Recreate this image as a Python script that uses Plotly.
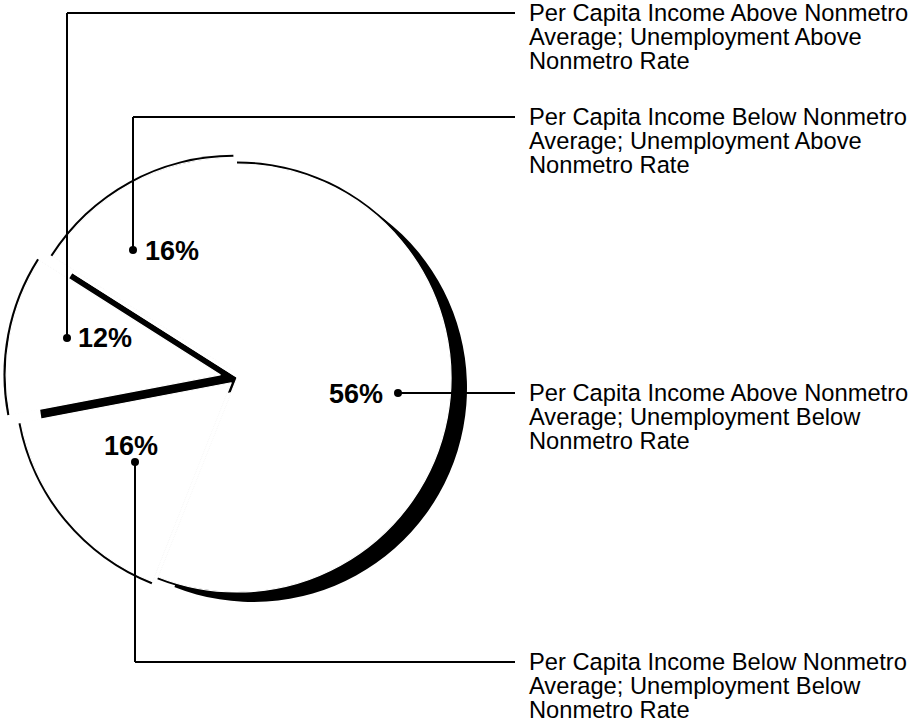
import plotly.graph_objects as go

W, H = 916, 724

# ---- data ----
values = [56, 16, 12, 16]
label_lines = [
    ["Per Capita Income Above Nonmetro", "Average; Unemployment Below", "Nonmetro Rate"],
    ["Per Capita Income Below Nonmetro", "Average; Unemployment Below", "Nonmetro Rate"],
    ["Per Capita Income Above Nonmetro", "Average; Unemployment Above", "Nonmetro Rate"],
    ["Per Capita Income Below Nonmetro", "Average; Unemployment Above", "Nonmetro Rate"],
]
categories = [" ".join(l) for l in label_lines]
pct_text = [f"{v}%" for v in values]

# ---- layout helpers (pixel -> paper) ----
def px(x):
    return x / W

def py(y):
    return 1 - y / H

FONT = "Liberation Sans, Arial, Helvetica, sans-serif"

cx, cy, r = 237, 378, 214
pull = [0.0, 0.035, 0.08, 0.035]


def pie(colors, center, radius, pulls, line_w=0, line_c="black", hover="skip"):
    half = radius * (1 + max(pulls))
    x0, y0 = center
    return go.Pie(
        values=values, labels=categories, sort=False, direction="clockwise", rotation=0,
        pull=pulls,
        marker=dict(colors=colors, line=dict(width=line_w, color=line_c)),
        textinfo="none", hoverinfo=hover, showlegend=False,
        domain=dict(x=[px(x0 - half), px(x0 + half)],
                    y=[py(y0 + half), py(y0 - half)]),
    )


fig = go.Figure()
n = len(values)
# side wall / shadow: disc behind, offset down-right (dark where the wall shows)
fig.add_trace(pie(["black", "white", "black", "white"], (cx + 16, cy + 10), r, [0.0] * n))
# outline ring: slightly larger black pie with the same explosion
fig.add_trace(pie(["black"] * n, (cx, cy), r + 2.5, pull))
# front white face
fig.add_trace(pie(["white"] * n, (cx, cy), r, pull, line_w=1.2, line_c="white",
                  hover="label+percent"))

# callouts: dot position, path, label rows, percent label centre
callouts = [
    dict(dot=(398, 393), path=[(398, 393), (515, 393)], row0=393, pct=(356, 394)),
    dict(dot=(135, 462), path=[(135, 462), (135, 662), (515, 662)], row0=662, pct=(131, 446)),
    dict(dot=(67, 338), path=[(67, 338), (67, 13), (515, 13)], row0=13, pct=(105, 338)),
    dict(dot=(133, 250), path=[(133, 250), (133, 117), (515, 117)], row0=117, pct=(172, 251)),
]

shapes = []
annotations = []
for i, c in enumerate(callouts):
    pts = c["path"]
    for (x0, y0), (x1, y1) in zip(pts[:-1], pts[1:]):
        shapes.append(dict(type="line", xref="paper", yref="paper",
                           x0=px(x0), y0=py(y0), x1=px(x1), y1=py(y1),
                           line=dict(color="black", width=2)))
    dx, dy = c["dot"]
    rr = 4
    shapes.append(dict(type="circle", xref="paper", yref="paper",
                       x0=px(dx - rr), x1=px(dx + rr), y0=py(dy + rr), y1=py(dy - rr),
                       fillcolor="black", line=dict(color="black", width=0)))
    for k, line in enumerate(label_lines[i]):
        annotations.append(dict(text=line, xref="paper", yref="paper",
                                x=px(528), y=py(c["row0"] + 24 * k),
                                xanchor="left", yanchor="middle", showarrow=False,
                                borderpad=0,
                                font=dict(family=FONT, size=23.7, color="black")))
    qx, qy = c["pct"]
    annotations.append(dict(text=f"<b>{pct_text[i]}</b>", xref="paper", yref="paper",
                            x=px(qx), y=py(qy), xanchor="center", yanchor="middle",
                            showarrow=False, borderpad=0,
                            font=dict(family=FONT, size=27, color="black")))

fig.update_layout(
    width=W, height=H,
    margin=dict(l=0, r=0, t=0, b=0),
    paper_bgcolor="white", plot_bgcolor="white",
    showlegend=False,
    shapes=shapes, annotations=annotations,
)

fig.write_html("out.html")
